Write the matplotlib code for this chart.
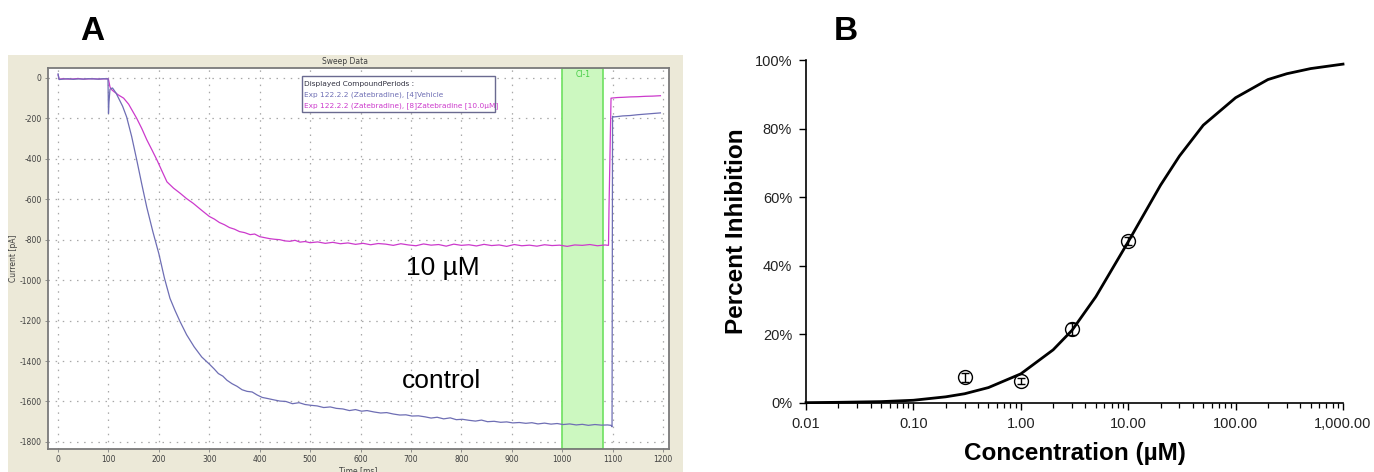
import matplotlib
matplotlib.use("Agg")
import matplotlib.pyplot as plt
from matplotlib.patches import Rectangle
from matplotlib.ticker import FixedLocator, FuncFormatter, LogLocator, NullFormatter

# ---------------- data: panel A (sweep traces) ----------------
control_t = [0, 2, 10, 20, 30, 40, 50, 60, 70, 80, 90, 99, 100, 101, 103, 108, 115, 120, 128,
             136, 146, 156, 166, 176, 188, 200, 211, 222, 232, 242, 255, 270, 285, 300, 310,
             318, 327, 335, 345, 355, 365, 375, 385, 395, 405, 415, 428, 440, 452, 465, 478,
             490, 502, 514, 527, 540, 552, 565, 578, 590, 602, 613, 627, 640, 652, 665, 678,
             690, 702, 715, 728, 740, 752, 765, 778, 790, 802, 815, 828, 840, 852, 865, 878,
             890, 902, 915, 928, 940, 952, 965, 978, 990, 1002, 1015, 1028, 1040, 1052, 1065,
             1078, 1090, 1097, 1099, 1100, 1102, 1110, 1120, 1135, 1150, 1165, 1180, 1195]
control_i = [20, -8, -6, -4, -7, -5, -6, -4, -5, -6, -4, -5, -175, -120, -55, -50, -75, -100, -140,
             -193, -290, -405, -525, -640, -760, -870, -990, -1090, -1150, -1205, -1270, -1330,
             -1380, -1415, -1440, -1462, -1475, -1495, -1512, -1525, -1542, -1550, -1553, -1568,
             -1580, -1585, -1592, -1598, -1600, -1611, -1606, -1615, -1619, -1622, -1630, -1627,
             -1634, -1637, -1645, -1640, -1648, -1645, -1652, -1657, -1655, -1662, -1667, -1666,
             -1672, -1671, -1676, -1682, -1678, -1686, -1681, -1690, -1688, -1693, -1697, -1692,
             -1700, -1698, -1703, -1701, -1706, -1704, -1708, -1705, -1711, -1707, -1712, -1709,
             -1714, -1711, -1716, -1713, -1718, -1714, -1717, -1716, -1718, -1725, -190, -193,
             -191, -188, -186, -182, -179, -176, -173]

drug_t = [0, 2, 10, 20, 30, 40, 50, 60, 70, 80, 90, 99, 100, 103, 107, 112, 120, 130, 140, 148,
          156, 166, 176, 186, 196, 206, 216, 229, 242, 255, 268, 285, 300, 310, 320, 330, 340,
          350, 360, 370, 381, 390, 400, 410, 420, 430, 440, 450, 460, 470, 480, 490, 500, 515,
          530, 545, 560, 575, 590, 605, 620, 635, 650, 665, 680, 695, 710, 725, 740, 755, 770,
          785, 800, 815, 830, 845, 860, 875, 890, 905, 920, 935, 950, 965, 980, 995, 1010, 1025,
          1040, 1055, 1070, 1085, 1092, 1093, 1097, 1110, 1120, 1135, 1150, 1165, 1180, 1195]
drug_i = [15, -6, -4, -6, -5, -3, -6, -5, -4, -6, -5, -4, -8, -45, -60, -70, -85, -100, -130,
          -165, -200, -250, -306, -355, -405, -460, -514, -545, -570, -597, -620, -655, -685,
          -698, -715, -726, -740, -748, -760, -765, -775, -772, -785, -790, -795, -798, -800,
          -806, -808, -803, -812, -809, -815, -811, -818, -813, -820, -816, -823, -818, -825,
          -819, -822, -828, -820, -826, -830, -821, -827, -824, -832, -822, -828, -825, -831,
          -823, -829, -826, -833, -824, -830, -827, -832, -825, -829, -827, -833, -826, -828,
          -824, -830, -826, -828, -640, -100, -97, -96, -94, -93, -91, -90, -88]

a_xticks = [0, 100, 200, 300, 400, 500, 600, 700, 800, 900, 1000, 1100, 1200]
a_yticks = [0, -200, -400, -600, -800, -1000, -1200, -1400, -1600, -1800]
band_start, band_end = 1000, 1082

legend_lines = ["Displayed CompoundPeriods :",
                "Exp 122.2.2 (Zatebradine), [4]Vehicle",
                "Exp 122.2.2 (Zatebradine), [8]Zatebradine [10.0\u00b5M]"]

# ---------------- data: panel B (concentration response) ----------------
conc = [0.3, 1.0, 3.0, 10.0]
inhib = [0.075, 0.064, 0.215, 0.472]
inhib_err = [0.013, 0.010, 0.018, 0.012]

fit_conc = [0.01, 0.02, 0.05, 0.1, 0.2, 0.3, 0.5, 1.0, 2.0, 3.0, 5.0, 10.0, 20.0, 30.0, 50.0,
            100.0, 200.0, 300.0, 500.0, 1000.0]
fit_inhib = [0.001, 0.002, 0.004, 0.008, 0.018, 0.027, 0.045, 0.085, 0.155, 0.212, 0.31,
             0.47, 0.635, 0.72, 0.81, 0.89, 0.943, 0.96, 0.975, 0.988]

b_xticks = [0.01, 0.1, 1, 10, 100, 1000]
b_xticklabels = ["0.01", "0.10", "1.00", "10.00", "100.00", "1,000.00"]
b_yticks = [0, 0.2, 0.4, 0.6, 0.8, 1.0]

# ---------------- figure ----------------
W, H = 1374, 472
fig = plt.figure(figsize=(W / 100, H / 100), dpi=100)
fig.patch.set_facecolor("white")

def fx(px):
    return px / W

def fy(py):
    return 1 - py / H

# beige screenshot background for panel A
bg = fig.add_axes([fx(8), 0, fx(683) - fx(8), fy(55)], zorder=0)
bg.set_facecolor("#ECE9D8")
bg.set_xticks([])
bg.set_yticks([])
for s in bg.spines.values():
    s.set_visible(False)

axA = fig.add_axes([fx(48), fy(449), fx(669) - fx(48), fy(68) - fy(449)], zorder=1)
axA.set_facecolor("white")
axA.set_xlim(-20, 1212)
axA.set_ylim(-1835, 49)

ctrl_col = "#6E6EB4"
drug_col = "#CC3ACC"

axA.axvspan(band_start, band_end, facecolor="#CCF8C0", edgecolor="#6EE060", linewidth=1.2, zorder=1)
axA.text((band_start + band_end) / 2, 0.995, "Cl-1", transform=axA.get_xaxis_transform(),
         ha="center", va="top", fontsize=5.5, color="#44CC44", family="DejaVu Sans")

axA.plot(drug_t, drug_i, color=drug_col, linewidth=0.9, zorder=3)
axA.plot(control_t, control_i, color=ctrl_col, linewidth=0.9, zorder=4)

axA.set_xticks(a_xticks)
axA.set_yticks(a_yticks)
axA.set_yticklabels(["0" if v == 0 else "-%d" % (-v) for v in a_yticks])
axA.grid(True, color="#A8A8A8", linestyle=(0, (1.2, 4.5)), linewidth=0.9, zorder=2)
axA.set_axisbelow(True)
axA.tick_params(labelsize=5.5, labelcolor="#404040", color="#808080", length=2.5, width=0.6, pad=2)
for s in axA.spines.values():
    s.set_color("#7A7A7A")
    s.set_linewidth(1.3)

axA.set_xlabel("Time [ms]", fontsize=5.5, color="#404040", labelpad=1)
axA.set_ylabel("Current [pA]", fontsize=5.5, color="#404040", labelpad=1)

fig.text(fx(345), fy(62), "Sweep Data", ha="center", va="center", fontsize=5.5, color="#404040",
         zorder=5)

# legend box
axA.add_patch(Rectangle((0.409, 0.885), 0.311, 0.094, transform=axA.transAxes, facecolor="white",
                        edgecolor="#6A6A90", linewidth=1.0, zorder=6))
leg_cols = ["#303040", ctrl_col, drug_col]
for k, (line, col) in enumerate(zip(legend_lines, leg_cols)):
    axA.text(0.413, 0.958 - k * 0.029, line, transform=axA.transAxes, fontsize=5.3, color=col,
             va="center", ha="left", zorder=7, family="DejaVu Sans")

axA.text(0.636, 0.475, "10 \u00b5M", transform=axA.transAxes, fontsize=19, ha="center",
         va="center", family="Liberation Sans", color="black", zorder=8)
axA.text(0.634, 0.178, "control", transform=axA.transAxes, fontsize=19, ha="center",
         va="center", family="Liberation Sans", color="black", zorder=8)

fig.text(fx(92), fy(31), "A", fontsize=24, fontweight="bold", ha="center", va="center",
         family="Liberation Sans")
fig.text(fx(846), fy(31), "B", fontsize=24, fontweight="bold", ha="center", va="center",
         family="Liberation Sans")

# ---------------- panel B ----------------
axB = fig.add_axes([fx(806), fy(403), fx(1343) - fx(806), fy(60) - fy(403)], zorder=1)
axB.set_xscale("log")
axB.set_xlim(0.01, 1000)
axB.set_ylim(0, 1.0)

axB.plot(fit_conc, fit_inhib, color="black", linewidth=2.0, zorder=3, clip_on=False)
axB.errorbar(conc, inhib, yerr=inhib_err, fmt="o", markersize=10, markerfacecolor="none",
             markeredgecolor="black", markeredgewidth=1.0, ecolor="black", elinewidth=1.0,
             capsize=3, capthick=1.0, zorder=4)

axB.xaxis.set_major_locator(FixedLocator(b_xticks))
axB.xaxis.set_major_formatter(FuncFormatter(lambda v, p: b_xticklabels[b_xticks.index(v)]
                                            if v in b_xticks else ""))
axB.xaxis.set_minor_locator(LogLocator(base=10, subs=range(2, 10)))
axB.xaxis.set_minor_formatter(NullFormatter())
axB.set_yticks(b_yticks)
axB.set_yticklabels(["%d%%" % round(v * 100) for v in b_yticks])

for side in ["top", "right"]:
    axB.spines[side].set_visible(False)
for side in ["left", "bottom"]:
    axB.spines[side].set_linewidth(1.2)
    axB.spines[side].set_color("black")

axB.tick_params(axis="both", which="major", labelsize=10.5, length=5, width=1.0, direction="out",
                labelcolor="#222222", pad=5)
axB.tick_params(axis="x", which="minor", length=3.5, width=0.9, direction="out")
for lab in axB.get_xticklabels() + axB.get_yticklabels():
    lab.set_family("Liberation Sans")

axB.set_xlabel("Concentration (\u00b5M)", fontsize=17.5, fontweight="bold",
               family="Liberation Sans", labelpad=8)
axB.set_ylabel("Percent Inhibition", fontsize=17.5, fontweight="bold",
               family="Liberation Sans", labelpad=5)

fig.savefig("out.png", dpi=100)
